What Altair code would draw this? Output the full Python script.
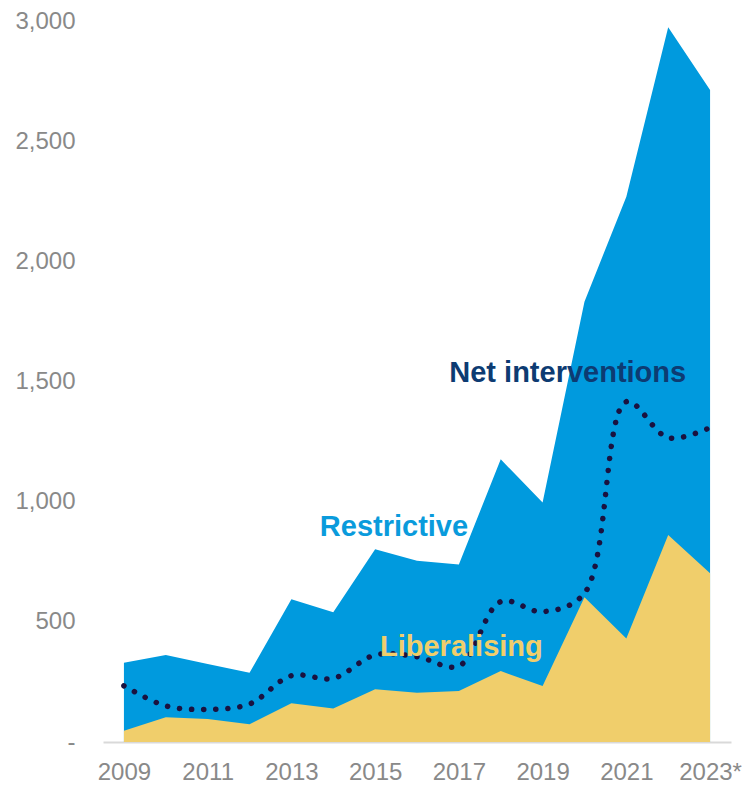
import altair as alt
import pandas as pd

years = list(range(2009, 2024))
total = [330, 362, 325, 288, 594, 540, 802, 754, 739, 1176, 997, 1832, 2269, 2974, 2713]
liberalising = [47, 103, 96, 74, 161, 139, 220, 205, 212, 295, 233, 602, 431, 861, 702]
net = [234, 150, 136, 158, 276, 265, 362, 355, 316, 584, 542, 619, 1416, 1266, 1308]

ann_text = ["Net interventions", "Restrictive", "Liberalising"]
ann_year = [2019.6, 2015.45, 2017.06]
ann_value = [1535, 895, 397]
ann_color = ["#0D3B72", "#0A9BDC", "#F0CE6B"]

df = pd.DataFrame({"year": years, "total": total, "lib": liberalising, "net": net})
ann = pd.DataFrame({"text": ann_text, "year": ann_year, "value": ann_value, "color": ann_color})

FONT = "Liberation Sans"
xscale = alt.Scale(domain=[2008.5, 2023.5], nice=False, zero=False)
yscale = alt.Scale(domain=[0, 3000], nice=False)

xaxis = alt.Axis(
    values=list(range(2009, 2024, 2)), format="d",
    labelExpr="datum.value == 2023 ? '2023*' : datum.label",
    ticks=False, grid=False, domainColor="#D9D9D9", domainWidth=2,
    labelFont=FONT, labelFontSize=24, labelColor="#898989", labelPadding=18,
    title=None,
)
yaxis = alt.Axis(
    values=[0, 500, 1000, 1500, 2000, 2500, 3000],
    labelExpr="datum.value == 0 ? '-\u00a0\u00a0' : format(datum.value, ',')",
    ticks=False, grid=False, domain=False,
    labelFont=FONT, labelFontSize=24, labelColor="#898989", labelPadding=28,
    title=None,
)

base = alt.Chart(df)

blue = base.mark_area(color="#009ADE", opacity=1).encode(
    x=alt.X("year:Q", scale=xscale, axis=xaxis),
    y=alt.Y("total:Q", scale=yscale, axis=yaxis),
)
yellow = base.mark_area(color="#F0CE6B", opacity=1).encode(
    x=alt.X("year:Q", scale=xscale),
    y=alt.Y("lib:Q", scale=yscale),
)
line = base.mark_line(
    color="#1A1240", strokeWidth=5.5, strokeCap="round", strokeDash=[0.1, 12],
    interpolate="catmull-rom",
).encode(
    x=alt.X("year:Q", scale=xscale),
    y=alt.Y("net:Q", scale=yscale),
)
labels = alt.Chart(ann).mark_text(
    font=FONT, fontSize=29, fontWeight="bold", align="center", baseline="middle",
).encode(
    x=alt.X("year:Q", scale=xscale),
    y=alt.Y("value:Q", scale=yscale),
    text="text:N",
    color=alt.Color("color:N", scale=None),
)

chart = alt.layer(blue, yellow, line, labels).properties(
    width=628, height=721,
    autosize=alt.AutoSizeParams(type="none"),
    padding={"left": 103, "top": 21, "right": 12, "bottom": 43},
).configure_view(stroke=None)

chart.save("out.html", embed_options={"renderer": "svg", "actions": False})
